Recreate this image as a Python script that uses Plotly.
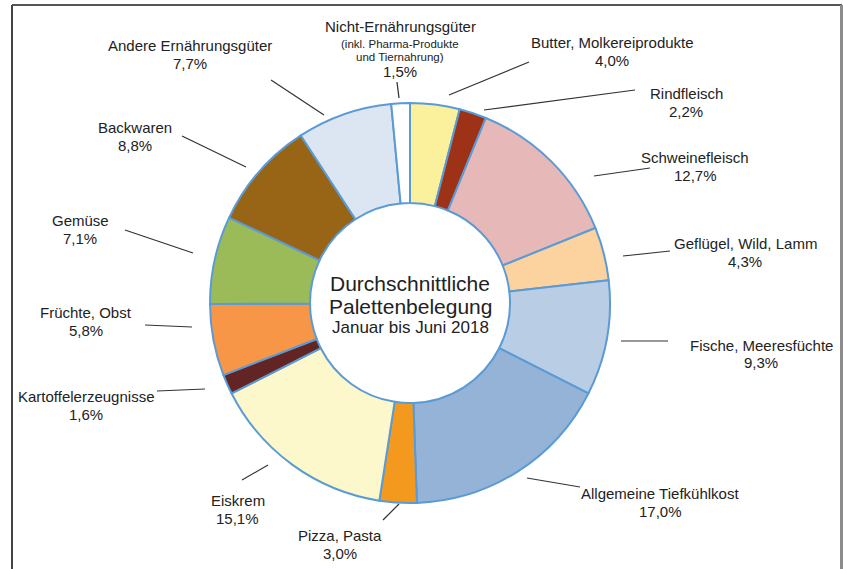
import plotly.graph_objects as go

W, H = 843, 569

categories = [
    "Butter, Molkereiprodukte", "Rindfleisch", "Schweinefleisch",
    "Geflügel, Wild, Lamm", "Fische, Meeresfüchte", "Allgemeine Tiefkühlkost",
    "Pizza, Pasta", "Eiskrem", "Kartoffelerzeugnisse", "Früchte, Obst",
    "Gemüse", "Backwaren", "Andere Ernährungsgüter", "Nicht-Ernährungsgüter",
]
values = [4.0, 2.2, 12.7, 4.3, 9.3, 17.0, 3.0, 15.1, 1.6, 5.8, 7.1, 8.8, 7.7, 1.5]
value_labels = ["4,0%", "2,2%", "12,7%", "4,3%", "9,3%", "17,0%", "3,0%",
                "15,1%", "1,6%", "5,8%", "7,1%", "8,8%", "7,7%", "1,5%"]
colors = ["#FBF19C", "#9E3216", "#E6B9B8", "#FCD39F", "#B9CDE5", "#95B3D7",
          "#F39A1E", "#FCF8CC", "#632523", "#F79646", "#9BBB59", "#986516",
          "#DCE6F2", "#FFFFFF"]

# label layout (pixel positions): label centre x, first line y, leader start, leader end
label_pos = [
    (612, 42, (449, 95), (529, 62)),
    (686, 93, (484, 110), (635, 90)),
    (695, 157, (594, 176), (650, 168)),
    (745, 243, (623, 256), (670, 251)),
    (761, 345, (621, 341), (668, 341)),
    (660, 493, (527, 478), (580, 487)),
    (340, 535, (399, 504), (383, 520)),
    (238, 500, (268, 465), (242, 480)),
    (86, 396, (205, 389), (157, 391)),
    (86, 312, (192, 327), (145, 325)),
    (80, 221, (193, 253), (125, 230)),
    (135, 128, (246, 167), (182, 136)),
    (190, 46, (324, 115), (271, 80)),
    (400, 27, (399, 98), (397, 82)),
]

def px(x):
    return x / W

def py(y):
    return 1 - y / H

cx, cy, R = 410, 303, 200

fig = go.Figure(go.Pie(
    labels=categories, values=values, sort=False, direction="clockwise",
    rotation=0, hole=0.5, textinfo="none", hoverinfo="skip",
    marker=dict(colors=colors, line=dict(color="#5B9BD5", width=2)),
    domain=dict(x=[px(cx - R), px(cx + R)], y=[py(cy + R), py(cy - R)]),
    showlegend=False,
))

FONT = "Liberation Sans, Arial, sans-serif"
annotations = []
shapes = []

def txt(x, y, s, size):
    return dict(x=px(x), y=py(y), xref="paper", yref="paper", text=s,
                showarrow=False, xanchor="center", yanchor="middle",
                font=dict(size=size, color="#222", family=FONT))

for name, vl, (lx, ly, p0, p1) in zip(categories, value_labels, label_pos):
    if name == "Nicht-Ernährungsgüter":
        annotations.append(txt(lx, ly, name, 15))
        annotations.append(txt(lx, 44, "(inkl. Pharma-Produkte", 11.5))
        annotations.append(txt(lx, 57, "und Tiernahrung)", 11.5))
        annotations.append(txt(lx, 72, vl, 15))
    else:
        annotations.append(txt(lx, ly, name, 15))
        annotations.append(txt(lx, ly + 18, vl, 15))
    shapes.append(dict(type="line", xref="paper", yref="paper",
                       x0=px(p0[0]), y0=py(p0[1]), x1=px(p1[0]), y1=py(p1[1]),
                       line=dict(color="#333", width=1.2)))

annotations += [
    txt(cx, 283, "Durchschnittliche", 21),
    txt(cx, 306, "Palettenbelegung", 21),
    txt(cx, 328, "Januar bis Juni 2018", 17),
]

# frame
shapes += [
    dict(type="line", xref="paper", yref="paper", x0=px(12), y0=py(5), x1=px(12), y1=0,
         line=dict(color="#444", width=2)),
    dict(type="line", xref="paper", yref="paper", x0=px(12), y0=py(5), x1=px(842), y1=py(5),
         line=dict(color="#555", width=2)),
    dict(type="line", xref="paper", yref="paper", x0=px(841.5), y0=py(5), x1=px(841.5), y1=0,
         line=dict(color="#8c8c8c", width=3)),
]

fig.update_layout(
    width=W, height=H, margin=dict(l=0, r=0, t=0, b=0),
    paper_bgcolor="white", plot_bgcolor="white",
    annotations=annotations, shapes=shapes,
)

fig.write_html("out.html")
